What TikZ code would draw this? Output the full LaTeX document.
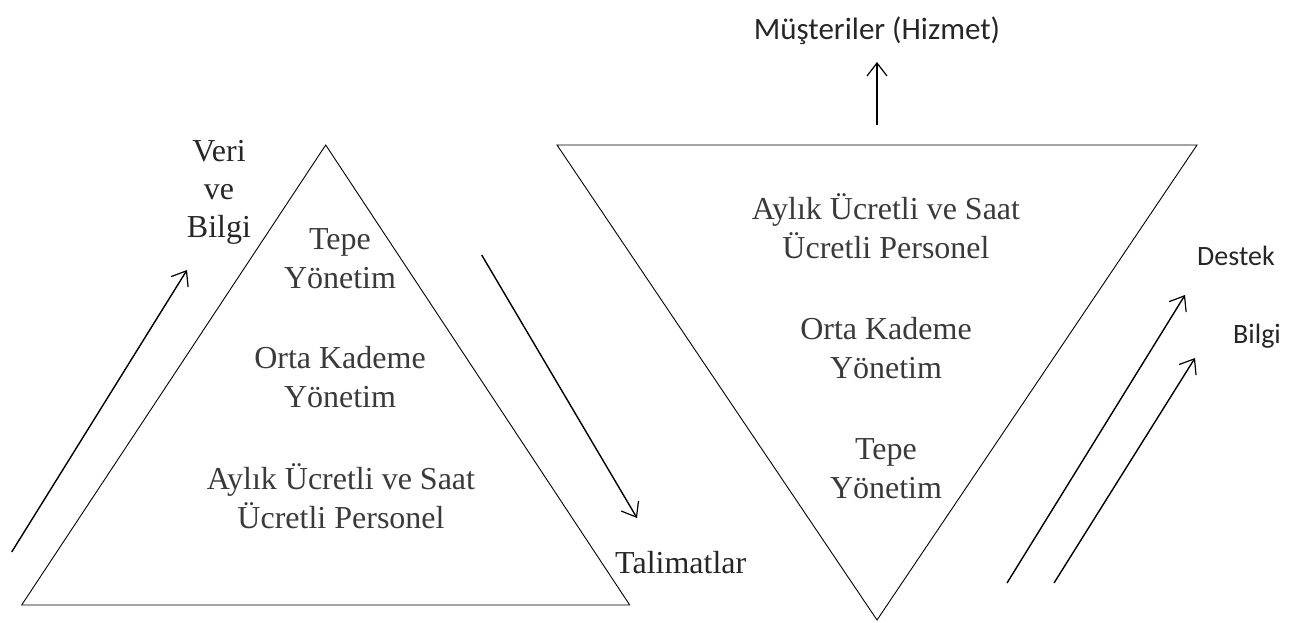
\documentclass[tikz,border=0pt]{standalone}
\usepackage{fontspec}
\setmainfont{Liberation Serif}
\newfontfamily\labelsans{Carlito}
\usetikzlibrary{arrows.meta}
\definecolor{levelgray}{HTML}{3A3A3A}
\begin{document}
\begin{tikzpicture}[x=1pt,y=-1pt,
  tri/.style={draw=black,line width=0.9pt,line join=miter},
  flow/.style={draw=black,line width=1.4pt,-{Straight Barb[length=13pt,width=20pt,line width=1.2pt]}},
  level/.style={text=levelgray,font=\fontsize{32}{39}\selectfont,align=center,anchor=base,inner sep=0pt},
  serifnote/.style={text=black!85,font=\fontsize{32}{38}\selectfont,anchor=base,inner sep=0pt},
  sansnote/.style={text=black!85,font=\labelsans\fontsize{28}{34}\selectfont,anchor=base,inner sep=0pt}]
  \useasboundingbox (0,0) rectangle (1297,622);

  % classical pyramid (the base anchor of a two-line node sits on its last line)
  \coordinate (p1) at (325.7,145);
  \coordinate (p2) at (629.7,605);
  \coordinate (p3) at (21.7,605);
  \draw[tri] (p1) -- (p2) -- (p3) -- cycle;

  \node[level] (ptop) at (340,288) {Tepe\\Yönetim};
  \node[level] (pmid) at (340,407) {Orta Kademe\\Yönetim};
  \node[level] (pbot) at (341,528) {Aylık Ücretli ve Saat\\Ücretli Personel};
  \node[serifnote,align=center] (veri) at (219,237) {Veri\\ve\\Bilgi};
  \node[serifnote,anchor=base west] (talimat) at (615,573) {Talimatlar};

  \coordinate (upA) at (11.7,552);
  \coordinate (upB) at (187,270);
  \coordinate (dnA) at (481.7,255);
  \coordinate (dnB) at (637,518);
  \draw[flow] (upA) -- (upB);
  \draw[flow] (dnA) -- (dnB);

  % inverted pyramid
  \coordinate (q1) at (557,145);
  \coordinate (q2) at (1197,145);
  \coordinate (q3) at (877,620);
  \draw[tri] (q1) -- (q2) -- (q3) -- cycle;

  \node[level] (qtop) at (886,258) {Aylık Ücretli ve Saat\\Ücretli Personel};
  \node[level] (qmid) at (886,378) {Orta Kademe\\Yönetim};
  \node[level] (qbot) at (886,498) {Tepe\\Yönetim};

  \node[sansnote,font=\labelsans\fontsize{31}{36}\selectfont] (musteri) at (877,39) {Müşteriler (Hizmet)};
  \coordinate (cA) at (877,125);
  \coordinate (cB) at (877,62);
  \draw[flow] (cA) -- (cB);

  \node[sansnote,anchor=base west] (destek) at (1197,265) {Destek};
  \node[sansnote,anchor=base west] (bilgi) at (1233,343) {Bilgi};
  \coordinate (dA) at (1007,583);
  \coordinate (dB) at (1185,295);
  \coordinate (bA) at (1054,583);
  \coordinate (bB) at (1195,358);
  \draw[flow] (dA) -- (dB);
  \draw[flow] (bA) -- (bB);
\end{tikzpicture}
\end{document}
